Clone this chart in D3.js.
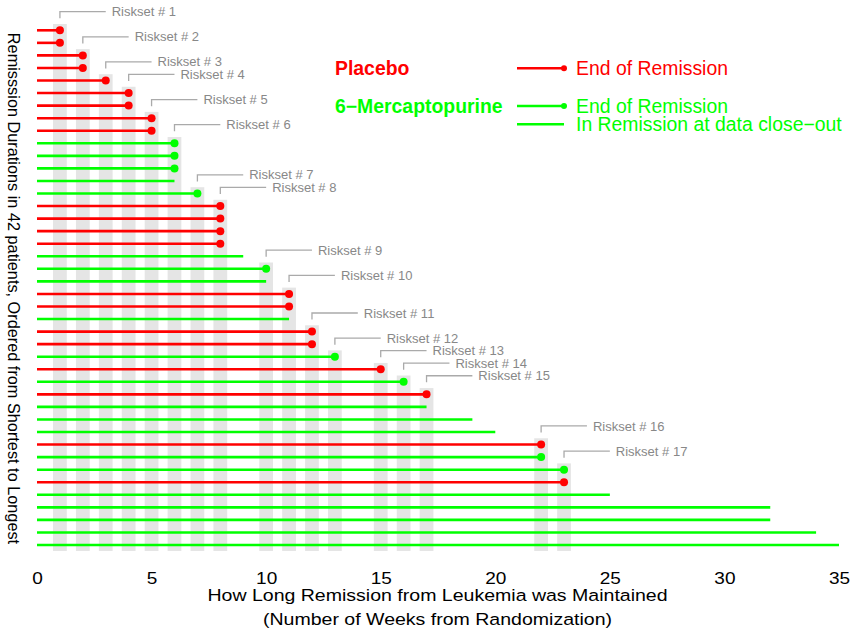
<!DOCTYPE html>
<html>
<head>
<meta charset="utf-8">
<script src="https://cdn.jsdelivr.net/npm/d3@7"></script>
<style>
  html, body { margin: 0; padding: 0; background: #fff; }
  svg { display: block; font-family: "Liberation Sans", Arial, sans-serif; }
</style>
</head>
<body>
<svg id="chart" width="851" height="629"></svg>
<script>
// Remission durations (weeks), ordered shortest to longest
const weeks  = [1,1,2,2,3,4,4,5,5,6,6,6,6,7,8,8,8,8,9,10,10,11,11,11,12,12,13,15,16,17,17,19,20,22,22,23,23,25,32,32,34,35];
const groups = ["P","P","P","P","P","P","P","P","P","M","M","M","M","M","P","P","P","P","M","M","M","P","P","M","P","P","M","P","M","P","M","M","M","P","M","M","P","M","M","M","M","M"];
const events = [1,1,1,1,1,1,1,1,1,1,1,1,0,1,1,1,1,1,0,1,0,1,1,0,1,1,1,1,1,1,0,0,0,1,1,1,1,0,0,0,0,0];
const xTicks = [0,5,10,15,20,25,30,35];
const groupNames = {P: "Placebo", M: "6\u2212Mercaptopurine"};
const legendItems = [
  {group: "P", label: "End of Remission", event: 1},
  {group: "M", label: "End of Remission", event: 1},
  {group: "M", label: "In Remission at data close\u2212out", event: 0}
];

const colors = {P: "#FF0000", M: "#00FF00"};
const svg = d3.select("#chart");

const x = d3.scaleLinear().domain([0, 35]).range([37, 839]);
const idx = d3.range(weeks.length);
const y = d3.scalePoint().domain(idx).range([30.3, 545]);

const rows = idx.map(i => ({i, t: weeks[i], g: groups[i], e: events[i]}));

// Risk sets: distinct event times, with first row at that time
const eventTimes = Array.from(new Set(rows.filter(r => r.e === 1).map(r => r.t))).sort((a,b)=>a-b);
const risksets = eventTimes.map((t, k) => ({
  k: k + 1, t,
  first: rows.find(r => r.t === t).i
}));

const halfW = 0.3; // weeks
const yBottom = y(weeks.length - 1) + 6;

// grey bars
svg.append("g").selectAll("rect").data(risksets).join("rect")
  .attr("x", d => x(d.t - halfW))
  .attr("width", d => x(d.t + halfW) - x(d.t - halfW))
  .attr("y", d => y(d.first) - 6.3)
  .attr("height", d => yBottom - (y(d.first) - 6.3))
  .attr("fill", "#E5E5E5");

// riskset brackets
const rs = svg.append("g");
risksets.forEach(d => {
  const top = y(d.first) - 6.3;
  const xc = x(d.t);
  const x2 = x(d.t + 2);
  rs.append("path")
    .attr("d", `M${xc},${top - 5.7}V${top - 12.3}H${x2}`)
    .attr("fill", "none").attr("stroke", "#AAAAAA").attr("stroke-width", 1.3);
  rs.append("text")
    .attr("x", x2 + 6).attr("y", top - 12.3).attr("dy", "0.35em")
    .attr("font-size", 13).attr("fill", "#888888")
    .text("Riskset # " + d.k);
});

// lines
svg.append("g").selectAll("line").data(rows).join("line")
  .attr("x1", x(0)).attr("x2", d => x(d.t))
  .attr("y1", d => y(d.i)).attr("y2", d => y(d.i))
  .attr("stroke", d => colors[d.g]).attr("stroke-width", 2.6);

// dots for end of remission
svg.append("g").selectAll("circle").data(rows.filter(r => r.e === 1)).join("circle")
  .attr("cx", d => x(d.t)).attr("cy", d => y(d.i)).attr("r", 4)
  .attr("fill", d => colors[d.g]);

// legend
const legY = [68.3, 106, 124.3];
svg.append("text").attr("x", 335).attr("y", legY[0]).attr("dy", "0.35em")
  .attr("font-size", 19.4).attr("font-weight", "bold").attr("fill", colors.P).text(groupNames.P);
svg.append("text").attr("x", 335).attr("y", legY[1]).attr("dy", "0.35em")
  .attr("font-size", 19.4).attr("font-weight", "bold").attr("fill", colors.M).text(groupNames.M);
legendItems.forEach((d, k) => {
  const g = svg.append("g");
  g.append("line").attr("x1", 517).attr("x2", 564).attr("y1", legY[k]).attr("y2", legY[k])
    .attr("stroke", colors[d.group]).attr("stroke-width", 2.4);
  if (d.event) g.append("circle").attr("cx", 564).attr("cy", legY[k]).attr("r", 3).attr("fill", colors[d.group]);
  g.append("text").attr("x", 576).attr("y", legY[k]).attr("dy", "0.35em")
    .attr("font-size", 19.4).attr("fill", colors[d.group]).text(d.label);
});

// x axis
const ax = svg.append("g").attr("transform", "translate(0,572)")
  .call(d3.axisBottom(x).tickValues(xTicks).tickSize(0).tickPadding(0).tickFormat(d3.format("d")));
ax.select(".domain").remove();
ax.selectAll("text").attr("font-size", 17).attr("font-family", "Liberation Sans, Arial, sans-serif")
  .attr("fill", "#000").attr("transform", "scale(1.12,1)");

// x label
const xl = svg.append("g").attr("transform", "translate(437.5,0)");
xl.append("text").attr("y", 601).attr("text-anchor", "middle").attr("font-size", 17)
  .attr("transform", "scale(1.15,1)").text("How Long Remission from Leukemia was Maintained");
xl.append("text").attr("y", 625).attr("text-anchor", "middle").attr("font-size", 17)
  .attr("transform", "scale(1.15,1)").text("(Number of Weeks from Randomization)");

// y label
svg.append("text").attr("transform", "translate(14,288.5) rotate(90)")
  .attr("text-anchor", "middle").attr("dy", "0.35em").attr("font-size", 16.3)
  .text("Remisssion Durations in 42 patients, Ordered from Shortest to Longest");
</script>
</body>
</html>
